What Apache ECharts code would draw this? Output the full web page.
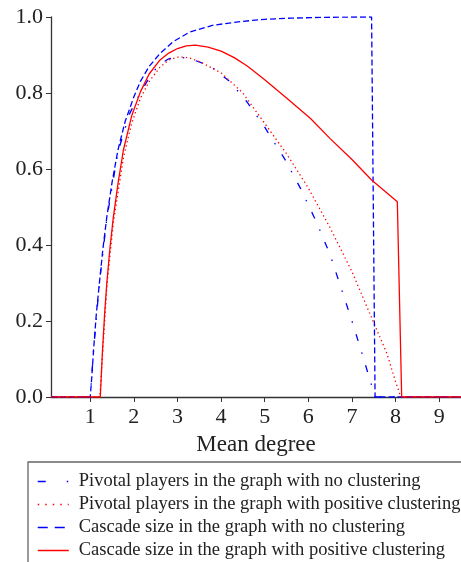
<!DOCTYPE html>
<html>
<head>
<meta charset="utf-8">
<script src="https://cdn.jsdelivr.net/npm/echarts@6/dist/echarts.min.js"></script>
<style>
  html, body { margin: 0; padding: 0; background: #fff; }
  #chart { width: 461px; height: 562px; }
</style>
</head>
<body>
<div id="chart"></div>
<script>
// series names (legend order)
const seriesNames = [
  'Pivotal players in the graph with no clustering',
  'Pivotal players in the graph with positive clustering',
  'Cascade size in the graph with no clustering',
  'Cascade size in the graph with positive clustering'
];

// x ticks / y ticks
const xTicks = [1, 2, 3, 4, 5, 6, 7, 8, 9];
const yTicks = [0, 0.2, 0.4, 0.6, 0.8, 1.0];

// [mean degree, value]
const pivotalNoClust = [
  [0.1, 0], [1.0, 0], [1.076, 0.124], [1.21, 0.3], [1.38, 0.47], [1.635, 0.645],
  [1.9, 0.745], [2.147, 0.8], [2.35, 0.84], [2.56, 0.873], [2.8, 0.89], [3.03, 0.895],
  [3.3, 0.89], [3.75, 0.871], [4.2, 0.83], [4.59, 0.777], [5.0, 0.71], [5.47, 0.624],
  [5.82, 0.549], [6.2, 0.457], [6.5, 0.374], [7.0, 0.2], [7.23, 0.115], [7.46, 0.027],
  [7.52, 0], [9.5, 0]
];
const pivotalPosClust = [
  [0.1, 0], [1.22, 0], [1.28, 0.11], [1.38, 0.29], [1.53, 0.46], [1.76, 0.63],
  [1.95, 0.72], [2.15, 0.786], [2.35, 0.83], [2.6, 0.868], [2.8, 0.887], [3.03, 0.895],
  [3.25, 0.893], [3.52, 0.882], [4.0, 0.853], [4.5, 0.8], [5.0, 0.72], [5.5, 0.64],
  [6.0, 0.55], [6.5, 0.445], [7.0, 0.33], [7.5, 0.195], [7.8, 0.115], [8.0, 0.04],
  [8.12, 0], [9.5, 0]
];
const cascadeNoClust = [
  [0.1, 0], [1.0, 0], [1.04, 0.06], [1.076, 0.124], [1.14, 0.22], [1.21, 0.3],
  [1.29, 0.39], [1.38, 0.474], [1.5, 0.565], [1.635, 0.65], [1.8, 0.725], [2.0, 0.79],
  [2.147, 0.83], [2.35, 0.87], [2.6, 0.904], [2.9, 0.935], [3.29, 0.961], [3.8, 0.978],
  [4.44, 0.988], [5.0, 0.994], [5.6, 0.997], [6.27, 0.999], [7.0, 1.0], [7.45, 1.0],
  [7.53, 0], [9.5, 0]
];
const cascadePosClust = [
  [0.1, 0], [1.23, 0], [1.28, 0.12], [1.33, 0.22], [1.38, 0.3], [1.45, 0.39],
  [1.53, 0.474], [1.64, 0.565], [1.76, 0.65], [1.95, 0.74], [2.15, 0.803], [2.35, 0.85],
  [2.6, 0.887], [2.8, 0.905], [3.0, 0.917], [3.2, 0.924], [3.41, 0.926], [3.7, 0.921],
  [4.0, 0.91], [4.3, 0.893], [4.6, 0.871], [5.0, 0.835], [5.5, 0.787], [6.05, 0.733],
  [6.5, 0.68], [7.0, 0.625], [7.45, 0.571], [8.04, 0.514], [8.14, 0], [9.5, 0]
];

const serif = '"Liberation Serif", "DejaVu Serif", serif';
const textColor = '#222';
const blue = '#0000ff';
const red = '#ff0000';

const chart = echarts.init(document.getElementById('chart'), null, { renderer: 'canvas' });

function lineSeries(name, data, color, dash, z) {
  return {
    name: name,
    type: 'line',
    data: data,
    symbol: 'none',
    z: z,
    lineStyle: { color: color, width: 1.3, type: dash },
    itemStyle: { color: color },
    animation: false
  };
}

// legend entries: line only, no marker
function legendItem(name, dash) {
  return { name: name, lineStyle: { type: dash, width: 1.5 }, itemStyle: { opacity: 0 } };
}

chart.setOption({
  animation: false,
  grid: { left: 51, right: 0, top: 17, bottom: 165 },
  xAxis: {
    type: 'value',
    min: 0.1,
    max: 9.5,
    name: 'Mean degree',
    nameLocation: 'middle',
    nameGap: 36,
    nameTextStyle: { fontFamily: serif, fontSize: 23, color: textColor },
    axisLine: { lineStyle: { color: '#333', width: 1.3 } },
    axisTick: { show: true, length: 5, customValues: xTicks, lineStyle: { color: '#333' } },
    axisLabel: {
      customValues: xTicks,
      margin: 9,
      fontFamily: serif, fontSize: 22, color: textColor
    },
    splitLine: { show: false }
  },
  yAxis: {
    type: 'value',
    min: 0,
    max: 1,
    interval: 0.2,
    axisLine: { show: true, lineStyle: { color: '#333', width: 1.3 } },
    axisTick: { show: true, length: 5, lineStyle: { color: '#333' } },
    axisLabel: {
      margin: 8,
      fontFamily: serif, fontSize: 22, color: textColor,
      formatter: v => v.toFixed(1)
    },
    splitLine: { show: false }
  },
  legend: {
    orient: 'vertical',
    left: 37,
    top: 472,
    padding: 0,
    itemWidth: 31,
    itemHeight: 14,
    itemGap: 4,
    textStyle: { fontFamily: serif, fontSize: 18.5, color: textColor, lineHeight: 17.4, padding: [0, 0, 0, 5] },
    data: [
      legendItem(seriesNames[0], [8, 21, 1.5, 30]),
      legendItem(seriesNames[1], [1.5, 6]),
      legendItem(seriesNames[2], [10, 7]),
      legendItem(seriesNames[3], 'solid')
    ]
  },
  graphic: [{
    type: 'rect',
    shape: { x: 28, y: 462, width: 440, height: 110 },
    style: { fill: 'none', stroke: '#666', lineWidth: 1.3 },
    silent: true
  }],
  series: [
    lineSeries(seriesNames[0], pivotalNoClust, blue, [7, 12, 1.5, 12], 2),
    lineSeries(seriesNames[1], pivotalPosClust, red, [1.3, 3], 3),
    lineSeries(seriesNames[2], cascadeNoClust, blue, [6, 3], 4),
    lineSeries(seriesNames[3], cascadePosClust, red, 'solid', 5)
  ]
});
</script>
</body>
</html>
